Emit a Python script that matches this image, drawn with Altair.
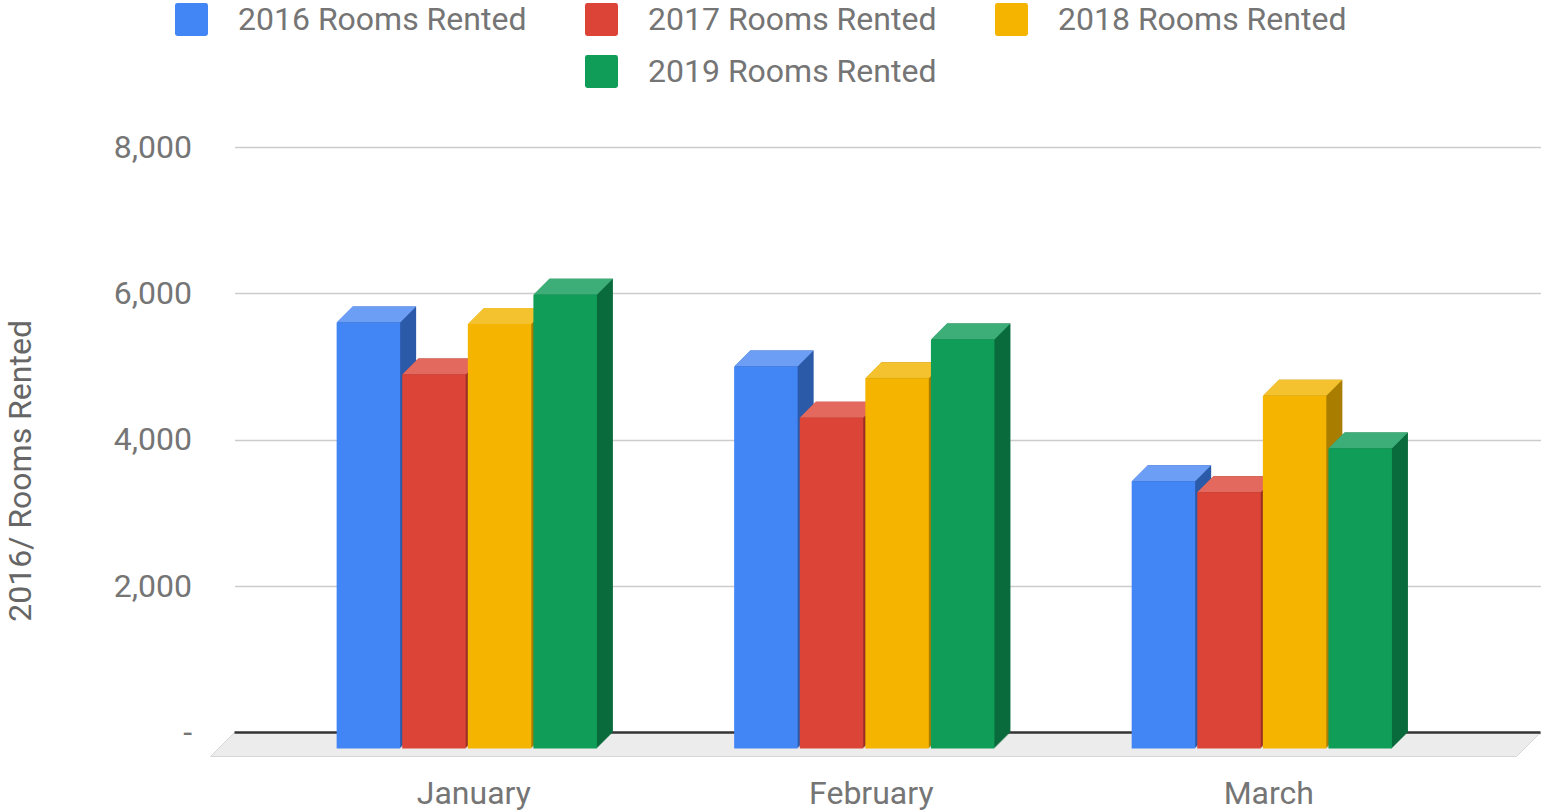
import altair as alt
import pandas as pd

# ---------------- data ----------------
months = ["January", "February", "March"]
series = ["2016 Rooms Rented", "2017 Rooms Rented", "2018 Rooms Rented", "2019 Rooms Rented"]
rooms_2016 = [5820, 5220, 3650]
rooms_2017 = [5110, 4520, 3500]
rooms_2018 = [5800, 5060, 4820]
rooms_2019 = [6200, 5590, 4100]
y_ticks = [0, 2000, 4000, 6000, 8000]

# ---------------- style ----------------
FRONT = ["#4285F4", "#DB4437", "#F4B400", "#0F9D58"]
SIDE = ["#2C5BA9", "#992F26", "#A97D00", "#0A6B3C"]
TOP = ["#6C9EF5", "#E3685E", "#F5C22F", "#3DAE77"]
GRAY = "#757575"
FONT = "Roboto"

W, H = 1306, 585.5
DEPTH = 16          # 3-D extrusion depth in px
BAR_W = 63.5        # bar width in px
FLOOR = 24          # floor depth in px
P_INNER, P_OUTER, ALIGN = 0.34, 0.3127, 0.471
STEP = W / (len(months) - P_INNER + 2 * P_OUTER)
BW = STEP * (1 - P_INNER)   # width of one month group

values = [rooms_2016, rooms_2017, rooms_2018, rooms_2019]
rows = []
for i, (name, vals) in enumerate(zip(series, values)):
    for m, v in zip(months, vals):
        rows.append({"month": m, "series": name, "rooms": v,
                     "side": SIDE[i], "top": TOP[i]})
df = pd.DataFrame(rows)

x_enc = alt.X("month:N", sort=months,
              scale=alt.Scale(domain=months, paddingInner=P_INNER, paddingOuter=P_OUTER, align=ALIGN),
              axis=alt.Axis(title=None, labelFont=FONT, labelFontSize=32, labelColor=GRAY,
                            labelPadding=61, labelBaseline="middle", labelOffset=-9,
                            labelAngle=0, ticks=False, domain=False, grid=False))


def xo_enc(shift):
    return alt.XOffset("series:N", sort=series,
                       scale=alt.Scale(type="band", domain=series, range=[-shift, BW - shift],
                                       paddingInner=0, paddingOuter=0))


# point scale whose positions are the centres of the band sub-bands
xo_point = alt.XOffset("series:N", sort=series,
                       scale=alt.Scale(type="point", domain=series, range=[0, BW], padding=0.5))

y_enc = alt.Y("rooms:Q",
              scale=alt.Scale(domain=[0, 8000], nice=False, zero=True),
              axis=alt.Axis(values=y_ticks, title="2016/ Rooms Rented",
                            titleFont=FONT, titleFontSize=32, titleFontWeight="normal",
                            titleColor="#666666", titleX=-214.5, titleY=323.4,
                            titleAlign="center", titleBaseline="middle",
                            labelFont=FONT, labelFontSize=32, labelColor=GRAY,
                            labelPadding=43, ticks=False, domain=False,
                            grid=True, gridColor="#cccccc", gridWidth=1.5,
                            labelExpr="datum.value == 0 ? '-' : format(datum.value, ',')"))

base = alt.Chart(df)

# floor (parallelogram under the plot)
floor_path = f"M0,0L{W},0L{W - FLOOR},{FLOOR}L{-FLOOR},{FLOOR}Z"
floor = alt.Chart(alt.Data(values=[{}])).mark_point(
    shape=floor_path, size=4, filled=True, fill="#ececec", opacity=1,
    stroke="#d6d6d6", strokeWidth=1
).encode(x=alt.value(0), y=alt.datum(0))

zero = alt.Chart(alt.Data(values=[{}])).mark_rule(color="#333333", strokeWidth=2.5).encode(
    y=alt.datum(0))

layers = [floor, zero]

# extrusion (side faces), drawn from back to front
for j in range(DEPTH):
    layers.append(
        base.mark_bar(width=BAR_W, yOffset=j, y2Offset=j).encode(
            x=x_enc, xOffset=xo_enc(j), y=y_enc,
            fill=alt.Fill("side:N", scale=None, legend=None))
    )

# top faces
top_path = (f"M{-BAR_W / 2},0L{BAR_W / 2},0L{BAR_W / 2 - DEPTH},{DEPTH}"
            f"L{-BAR_W / 2 - DEPTH},{DEPTH}Z")
layers.append(
    base.mark_point(shape=top_path, size=4, filled=True, opacity=1, strokeWidth=0).encode(
        x=x_enc, xOffset=xo_point, y=y_enc,
        fill=alt.Fill("top:N", scale=None, legend=None))
)

# front faces + legend (legend entries are laid out column by column)
legend_domain = [series[0], " ", series[1], series[3], series[2]]
legend_range = [FRONT[0], "rgba(0,0,0,0)", FRONT[1], FRONT[3], FRONT[2]]
rounded = ("M-0.85,-1H0.85Q1,-1 1,-0.85V0.85Q1,1 0.85,1H-0.85Q-1,1 -1,0.85"
           "V-0.85Q-1,-1 -0.85,-1Z")
layers.append(
    base.mark_bar(width=BAR_W, yOffset=DEPTH, y2Offset=DEPTH).encode(
        x=x_enc, xOffset=xo_enc(DEPTH), y=y_enc,
        color=alt.Color("series:N",
                        scale=alt.Scale(domain=legend_domain, range=legend_range),
                        legend=alt.Legend(orient="none", legendX=-59.5, legendY=-144,
                                          columns=3, title=None, symbolType=rounded,
                                          symbolSize=1089, symbolStrokeWidth=0,
                                          symbolOpacity=1, labelFont=FONT,
                                          labelFontSize=32, labelColor=GRAY,
                                          labelOffset=30, columnPadding=58,
                                          rowPadding=19, gridAlign="all",
                                          labelLimit=600)))
)

chart = alt.layer(*layers).resolve_scale(xOffset="independent").properties(
    width=W, height=H,
    autosize=alt.AutoSizeParams(type="none"),
    padding={"left": 234.5, "top": 147, "right": 3.5, "bottom": 79.5},
    background="white",
).configure_view(strokeWidth=0)

chart.save("out.html", embed_options={"renderer": "svg", "actions": False})
